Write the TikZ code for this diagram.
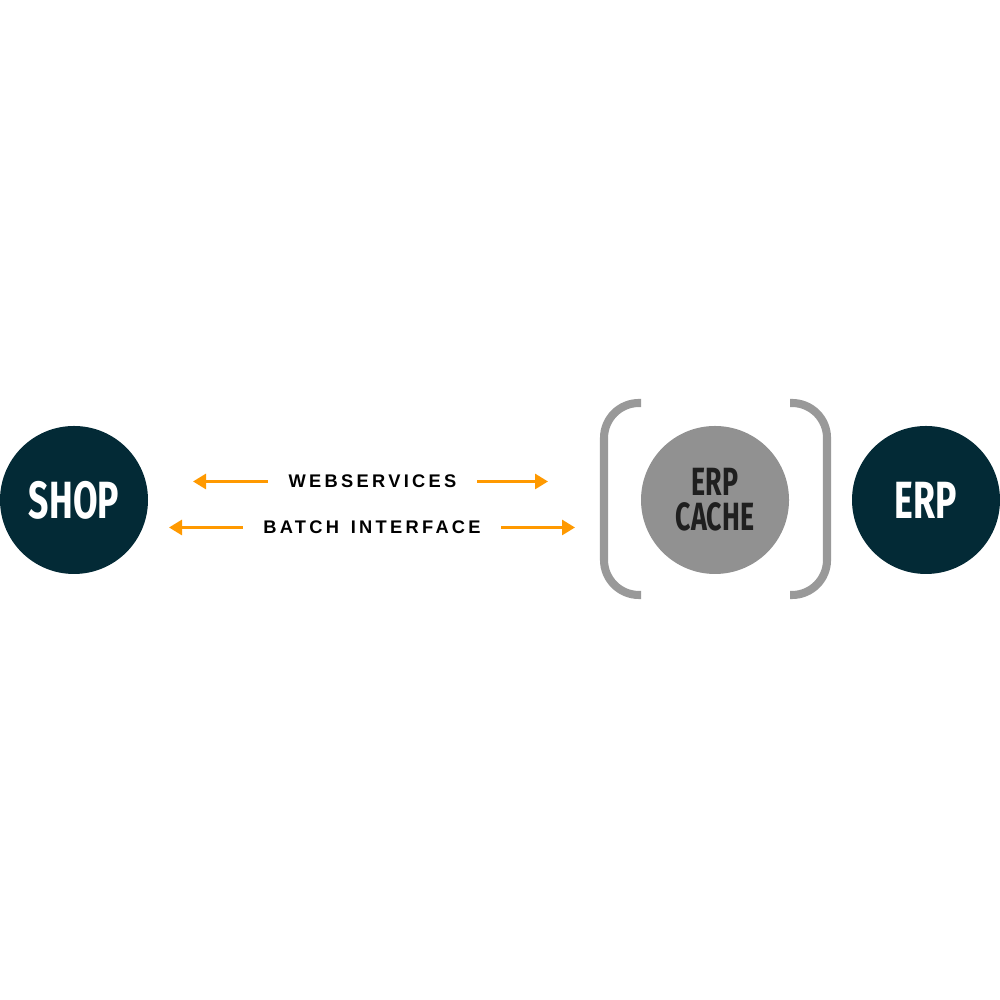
\documentclass[tikz,border=0pt]{standalone}
\usepackage{fontspec}
\usepackage{xcolor}
\usepackage{tikz}
\usetikzlibrary{arrows.meta,positioning,calc}
\newfontfamily\condfont[FakeStretch=0.68]{Fira Sans}
\newfontfamily\labelfont[LetterSpace=18,WordSpace=1.4]{Liberation Sans}
\definecolor{navy}{HTML}{032A36}
\definecolor{cachegray}{HTML}{919191}
\definecolor{bracketgray}{HTML}{999999}
\definecolor{arroworange}{HTML}{FF9900}

\begin{document}
\begin{tikzpicture}[
    system/.style={
        circle,
        fill=navy,
        minimum size=1.48cm,
        inner sep=0pt,
        text=white,
        font=\condfont\bfseries\fontsize{14.9}{16}\selectfont
    },
    cache/.style={
        circle,
        fill=cachegray,
        minimum size=1.48cm,
        inner sep=0pt,
        align=center,
        text=black!88,
        font=\condfont\bfseries\fontsize{11.2}{8.6}\selectfont
    },
    link/.style={
        inner xsep=2mm,
        inner ysep=0pt,
        font=\labelfont\bfseries\fontsize{5.2}{6}\selectfont
    },
    bracket/.style={draw=bracketgray, line width=2.3pt, rounded corners=3.5mm},
    arrow/.style={-{Triangle[length=1.3mm, width=1.5mm]}, draw=arroworange, fill=arroworange, line width=0.8pt}
]
\useasboundingbox (0,0) rectangle (10,10);

\node[system] (shop) at (0.74,5) {SHOP};
\node[cache] (erpcache) at (7.15,5) {ERP\\[1.3pt]CACHE};
\node[system] (erp) at (9.26,5) {ERP};

\node[link] (web) at (3.725,5.185) {WEBSERVICES};
\node[link] (batch) at (3.72,4.725) {BATCH INTERFACE};

\coordinate (webL) at (1.93,5.185);
\coordinate (webR) at (5.48,5.185);
\coordinate (batchL) at (1.69,4.725);
\coordinate (batchR) at (5.75,4.725);

\draw[arrow] (web.west) -- (webL);
\draw[arrow] (web.east) -- (webR);
\draw[arrow] (batch.west) -- (batchL);
\draw[arrow] (batch.east) -- (batchR);

% brackets round the cache
\draw[bracket] (6.41,5.97) -- (6.04,5.97) -- (6.04,4.05) -- (6.41,4.05);
\draw[bracket] (7.90,5.97) -- (8.27,5.97) -- (8.27,4.05) -- (7.90,4.05);
\end{tikzpicture}
\end{document}
